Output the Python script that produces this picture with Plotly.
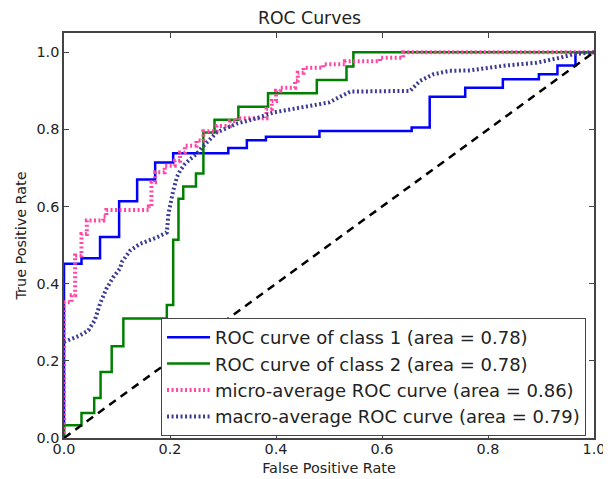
import plotly.graph_objects as go

# ---- data ----
fpr_class1 = [0, 0, 0.033, 0.033, 0.068, 0.068, 0.104, 0.104, 0.138, 0.138, 0.172, 0.172,
              0.206, 0.206, 0.310, 0.310, 0.345, 0.345, 0.381, 0.381, 0.482, 0.482,
              0.656, 0.656, 0.690, 0.690, 0.757, 0.757, 0.828, 0.828, 0.896, 0.896,
              0.931, 0.931, 0.965, 0.965, 1.0]
tpr_class1 = [0, 0.452, 0.452, 0.466, 0.466, 0.521, 0.521, 0.614, 0.614, 0.670, 0.670, 0.714,
              0.714, 0.738, 0.738, 0.752, 0.752, 0.772, 0.772, 0.781, 0.781, 0.796,
              0.796, 0.805, 0.805, 0.885, 0.885, 0.908, 0.908, 0.930, 0.930, 0.943,
              0.943, 0.966, 0.966, 1.0, 1.0]

fpr_class2 = [0, 0, 0.033, 0.033, 0.057, 0.057, 0.069, 0.069, 0.090, 0.090, 0.112, 0.112,
              0.194, 0.194, 0.206, 0.206, 0.216, 0.216, 0.225, 0.225, 0.249, 0.249,
              0.263, 0.263, 0.284, 0.284, 0.329, 0.329, 0.385, 0.385, 0.477, 0.477,
              0.533, 0.533, 0.546, 0.546, 1.0]
tpr_class2 = [0, 0.033, 0.033, 0.065, 0.065, 0.104, 0.104, 0.171, 0.171, 0.238, 0.238, 0.310,
              0.310, 0.345, 0.345, 0.514, 0.514, 0.620, 0.620, 0.652, 0.652, 0.686,
              0.686, 0.792, 0.792, 0.825, 0.825, 0.859, 0.859, 0.894, 0.894, 0.928,
              0.928, 0.963, 0.963, 1.0, 1.0]

fpr_micro = [0, 0, 0.0145, 0.0145, 0.021, 0.021, 0.033, 0.033, 0.043, 0.043, 0.074, 0.074,
             0.080, 0.080, 0.160, 0.160, 0.165, 0.165, 0.172, 0.172, 0.190, 0.190,
             0.209, 0.209, 0.219, 0.219, 0.228, 0.228, 0.250, 0.250, 0.263, 0.263,
             0.288, 0.288, 0.313, 0.313, 0.326, 0.326, 0.382, 0.382, 0.392, 0.392,
             0.400, 0.400, 0.408, 0.408, 0.436, 0.436, 0.441, 0.441, 0.452, 0.452,
             0.489, 0.489, 0.530, 0.530, 0.596, 0.596, 0.640, 0.640, 1.0]
tpr_micro = [0, 0.352, 0.352, 0.370, 0.370, 0.473, 0.473, 0.529, 0.529, 0.564, 0.564, 0.574,
             0.574, 0.591, 0.591, 0.600, 0.600, 0.663, 0.663, 0.689, 0.689, 0.706,
             0.706, 0.719, 0.719, 0.740, 0.740, 0.758, 0.758, 0.771, 0.771, 0.795,
             0.795, 0.809, 0.809, 0.822, 0.822, 0.829, 0.829, 0.853, 0.853, 0.874,
             0.874, 0.900, 0.900, 0.908, 0.908, 0.927, 0.927, 0.947, 0.947, 0.960,
             0.960, 0.969, 0.969, 0.977, 0.977, 0.986, 0.986, 1.0, 1.0]

fpr_macro = [0, 0.018, 0.030, 0.046, 0.058, 0.068, 0.080, 0.093, 0.106, 0.109, 0.125, 0.143,
             0.175, 0.194, 0.197, 0.206, 0.213, 0.219, 0.228, 0.238, 0.250, 0.260,
             0.288, 0.326, 0.364, 0.395, 0.452, 0.500, 0.540, 0.653, 0.672, 0.697,
             0.728, 0.766, 0.829, 0.892, 0.936, 0.961, 1.0]
tpr_macro = [0.249, 0.258, 0.266, 0.279, 0.305, 0.348, 0.387, 0.417, 0.440, 0.456, 0.486, 0.503,
             0.520, 0.533, 0.581, 0.641, 0.676, 0.693, 0.710, 0.723, 0.736, 0.753,
             0.792, 0.815, 0.829, 0.844, 0.857, 0.870, 0.898, 0.900, 0.926, 0.943,
             0.952, 0.953, 0.965, 0.973, 0.986, 0.995, 1.0]

chance_x = [0, 1]
chance_y = [0, 1]

names = ["ROC curve of class 1 (area = 0.78)",
         "ROC curve of class 2 (area = 0.78)",
         "micro-average ROC curve (area = 0.86)",
         "macro-average ROC curve (area = 0.79)"]

xticks = [0.0, 0.2, 0.4, 0.6, 0.8, 1.0]
yticks = [0.0, 0.2, 0.4, 0.6, 0.8, 1.0]

FONT = "DejaVu Sans"

fig = go.Figure()
fig.add_trace(go.Scatter(x=fpr_class1, y=tpr_class1, mode="lines", name=names[0],
                         line=dict(color="#0000ff", width=2.5)))
fig.add_trace(go.Scatter(x=fpr_class2, y=tpr_class2, mode="lines", name=names[1],
                         line=dict(color="#008000", width=2.5)))
fig.add_trace(go.Scatter(x=fpr_micro, y=tpr_micro, mode="lines", name=names[2],
                         line=dict(color="rgb(255,70,165)", width=4, dash="2px,2.5px")))
fig.add_trace(go.Scatter(x=fpr_macro, y=tpr_macro, mode="lines", name=names[3],
                         line=dict(color="rgb(60,60,150)", width=4, dash="2px,2.5px")))
fig.add_trace(go.Scatter(x=chance_x, y=chance_y, mode="lines", showlegend=False,
                         line=dict(color="black", width=2.5, dash="8px,6px")))

axis_common = dict(showline=True, linecolor="#444", linewidth=1.5, mirror="ticks",
                   ticks="inside", ticklen=5, tickcolor="#444", tickwidth=1,
                   showgrid=False, zeroline=False, automargin=False,
                   tickfont=dict(family=FONT, size=14.4, color="#222"))

# the page body has an 8px margin, so the figure is sized to fit the window
fig.update_layout(
    width=603, height=471,
    margin=dict(l=56, r=17, t=25, b=41),
    paper_bgcolor="white", plot_bgcolor="white",
    title=dict(text="ROC Curves", x=0.5, xanchor="center", y=0.979, yanchor="middle",
               font=dict(family=FONT, size=17.3, color="#222")),
    xaxis=dict(range=[0, 1], tickvals=xticks, tickformat=".1f", ticklabelstandoff=-3,
               title=dict(text="False Positive Rate", standoff=7,
                          font=dict(family=FONT, size=14.4, color="#222")),
               **axis_common),
    yaxis=dict(range=[0, 1.05], tickvals=yticks, tickformat=".1f",
               title=dict(text="True Positive Rate", standoff=6,
                          font=dict(family=FONT, size=14.4, color="#222")),
               **axis_common),
    legend=dict(x=0.985, xanchor="right", y=0.005, yanchor="bottom",
                bordercolor="#444", borderwidth=1, bgcolor="white", itemwidth=43,
                font=dict(family=FONT, size=18, color="#222")),
)

fig.write_html("out.html")
